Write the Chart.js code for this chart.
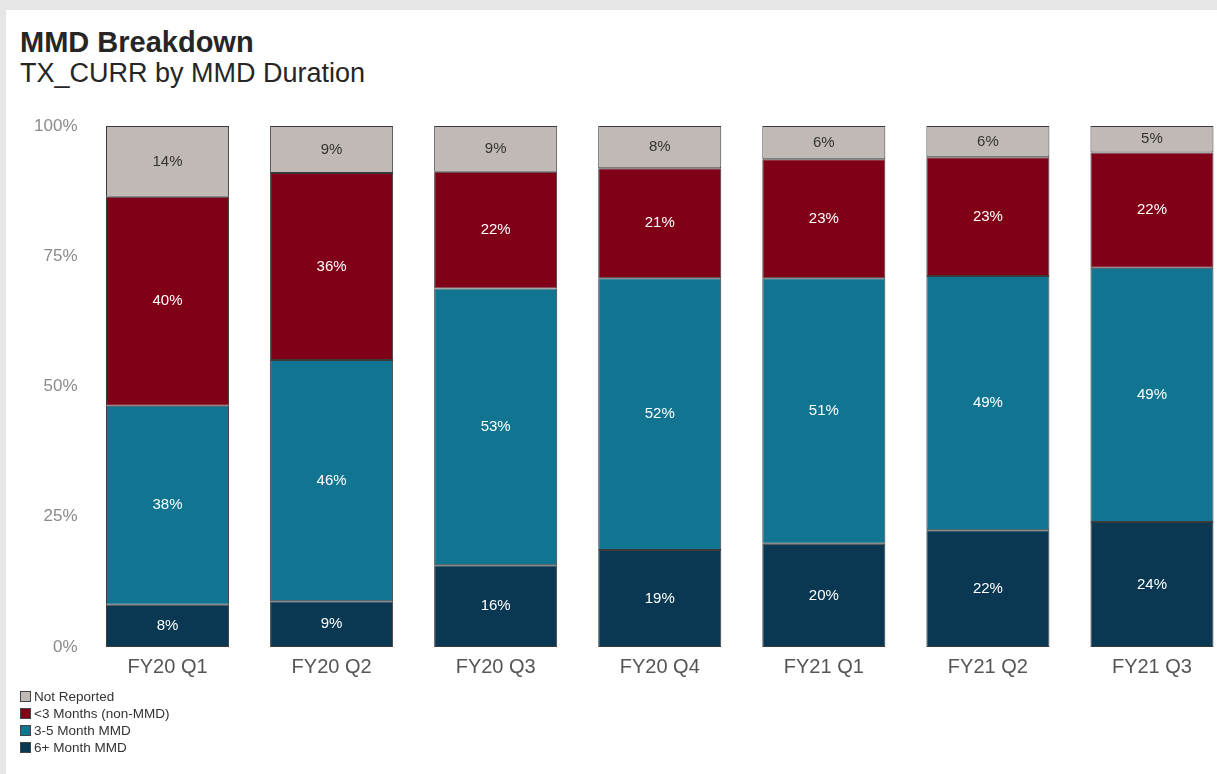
<!DOCTYPE html>
<html lang="en">
<head>
    <meta charset="UTF-8">
    <title>MMD Breakdown</title>
    <style>
        html, body {
            margin: 0;
            padding: 0;
            width: 1217px;
            height: 774px;
            overflow: hidden;
            background-color: #e6e6e6;
            font-family: "Liberation Sans", Arial, sans-serif;
        }

        .panel {
            position: absolute;
            left: 6px;
            top: 10px;
            width: 1260px;
            height: 800px;
            background-color: white;
        }

        .title {
            position: absolute;
            left: 20px;
            top: 26px;
            font-size: 29px;
            font-weight: bold;
            color: #262626;
        }

        .subtitle {
            position: absolute;
            left: 20px;
            top: 58px;
            font-size: 27px;
            color: #262626;
        }

        #chart-box {
            position: absolute;
            left: 0;
            top: 0;
            width: 1250px;
            height: 700px;
        }

        #legend {
            position: absolute;
            left: 20px;
            top: 688px;
            font-size: 13.5px;
            color: #333;
        }

        #legend div {
            height: 17px;
            line-height: 17px;
        }

        #legend span {
            display: inline-block;
            width: 9px;
            height: 9px;
            border: 1px solid #444;
            margin-right: 3px;
            vertical-align: -1px;
        }
    </style>
</head>
<body>
    <div class="panel"></div>
    <div class="title">MMD Breakdown</div>
    <div class="subtitle">TX_CURR by MMD Duration</div>
    <div id="chart-box">
        <canvas id="my-chart" width="1250" height="700"></canvas>
    </div>
    <div id="legend"></div>

    <script src="https://cdn.jsdelivr.net/npm/chart.js"></script>
    <script>
        const quarters = ['FY20 Q1', 'FY20 Q2', 'FY20 Q3', 'FY20 Q4', 'FY21 Q1', 'FY21 Q2', 'FY21 Q3'];
        const yTicks = [0, 25, 50, 75, 100];

        // share of TX_CURR (%), bottom to top
        const sixPlus = [8.1, 8.8, 15.7, 18.6, 19.8, 22.4, 24.0];
        const threeToFive = [38.2, 46.3, 53.1, 52.2, 51.0, 48.8, 48.8];
        const underThree = [40.1, 35.9, 22.4, 21.1, 22.8, 22.8, 22.1];
        const notReported = [13.6, 9.0, 8.8, 8.1, 6.4, 6.0, 5.1];

        const series = [
            { label: '6+ Month MMD', data: sixPlus, color: 'rgb(10, 55, 82)', text: '#ffffff' },
            { label: '3-5 Month MMD', data: threeToFive, color: 'rgb(17, 117, 145)', text: '#ffffff' },
            { label: '<3 Months (non-MMD)', data: underThree, color: 'rgb(128, 0, 24)', text: '#ffffff' },
            { label: 'Not Reported', data: notReported, color: 'rgb(192, 185, 181)', text: '#333333' }
        ];

        // legend lists top segment first
        const legend = document.getElementById('legend');
        series.slice().reverse().forEach(s => {
            const row = document.createElement('div');
            row.innerHTML = `<span style="background:${s.color}"></span>${s.label.replace('<', '&lt;')}`;
            legend.appendChild(row);
        });

        const segmentLabels = {
            id: 'segmentLabels',
            afterDatasetsDraw(chart) {
                const ctx = chart.ctx;
                ctx.save();
                ctx.font = '15px "Liberation Sans", Arial, sans-serif';
                ctx.textAlign = 'center';
                ctx.textBaseline = 'middle';
                chart.data.datasets.forEach((ds, i) => {
                    const meta = chart.getDatasetMeta(i);
                    ctx.fillStyle = series[i].text;
                    meta.data.forEach((bar, j) => {
                        const mid = (bar.y + bar.base) / 2;
                        ctx.fillText(Math.round(ds.data[j]) + '%', bar.x, mid);
                    });
                });
                ctx.restore();
            }
        };

        const ctx = document.getElementById('my-chart').getContext('2d');
        new Chart(ctx, {
            type: 'bar',
            data: {
                labels: quarters,
                datasets: series.map(s => ({
                    label: s.label,
                    data: s.data,
                    backgroundColor: s.color,
                    borderColor: '#3a3a3a',
                    borderWidth: 1,
                    borderSkipped: false,
                    barPercentage: 1,
                    categoryPercentage: 0.75
                }))
            },
            options: {
                responsive: false,
                animation: false,
                layout: {
                    padding: { top: 126, left: 0, right: 16, bottom: 0 }
                },
                plugins: {
                    legend: { display: false },
                    tooltip: { enabled: false }
                },
                scales: {
                    x: {
                        stacked: true,
                        grid: { display: false },
                        border: { display: false },
                        ticks: {
                            color: '#555555',
                            font: { size: 20, family: '"Liberation Sans", Arial, sans-serif' },
                            padding: 0
                        },
                        afterFit(scale) { scale.height = 53; }
                    },
                    y: {
                        stacked: true,
                        min: 0,
                        max: 100,
                        grid: { display: false },
                        border: { display: false },
                        afterBuildTicks(scale) { scale.ticks = yTicks.map(v => ({ value: v })); },
                        ticks: {
                            color: '#8a8a8a',
                            font: { size: 17, family: '"Liberation Sans", Arial, sans-serif' },
                            padding: 0,
                            callback: v => v + '%'
                        },
                        afterFit(scale) { scale.width = 85.5; }
                    }
                }
            },
            plugins: [segmentLabels]
        });
    </script>
</body>
</html>
